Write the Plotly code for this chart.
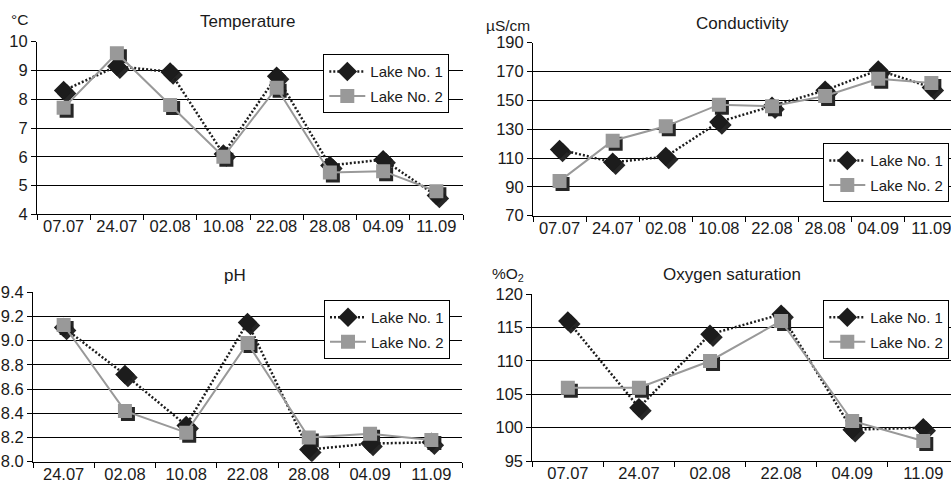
import plotly.graph_objects as go

# ---------------- data ----------------
dates_temp = ["07.07", "24.07", "02.08", "10.08", "22.08", "28.08", "04.09", "11.09"]
temp_lake1 = [8.3, 9.15, 8.95, 6.1, 8.8, 5.7, 5.9, 4.65]
temp_lake2 = [7.7, 9.6, 7.8, 6.0, 8.4, 5.45, 5.5, 4.8]

dates_cond = ["07.07", "24.07", "02.08", "10.08", "22.08", "28.08", "04.09", "11.09"]
cond_lake1 = [116, 107, 111, 135, 146, 157, 171, 159]
cond_lake2 = [94, 122, 132, 147, 146, 153, 165, 162]

dates_ph = ["24.07", "02.08", "10.08", "22.08", "28.08", "04.09", "11.09"]
ph_lake1 = [9.11, 8.72, 8.30, 9.15, 8.10, 8.15, 8.16]
ph_lake2 = [9.13, 8.42, 8.24, 8.98, 8.20, 8.23, 8.18]

dates_oxy = ["07.07", "24.07", "02.08", "22.08", "04.09", "11.09"]
oxy_lake1 = [116, 103, 114, 117, 99.7, 100]
oxy_lake2 = [106, 106, 110, 116, 101, 98]

series_names = ["Lake No. 1", "Lake No. 2"]
panel_titles = ["Temperature", "Conductivity", "pH", "Oxygen saturation"]
unit_labels = ["\u00b0C", "\u00b5S/cm", "", "%O<sub>2</sub>"]

# ---------------- layout geometry (pixels) ----------------
W, H = 951, 482
FONT = "Liberation Sans, Arial, sans-serif"
TXT = "#1a1a1a"
C1, C2 = "#1c1c1c", "#999999"
SHADOW = "#262626"
SH = 3  # shadow offset in px


def fx(px):
    return px / W


def fy(py):
    return 1 - py / H


panels = [
    dict(cats=dates_temp, l1=temp_lake1, l2=temp_lake2, x0=37, x1=463, y0=41.7, y1=214.3,
         xr=[-0.5, 7.5], yr=[4, 10], dt=1, fmt="", leg=(323.3, 54.3),
         title_xy=(247, 22), unit_xy=(19, 20)),
    dict(cats=dates_cond, l1=cond_lake1, l2=cond_lake2, x0=533, x1=951, y0=42.7, y1=215.7,
         xr=[-0.5, 7.37], yr=[70, 190], dt=20, fmt="", leg=(823.3, 143.3),
         title_xy=(742, 23), unit_xy=(508, 25)),
    dict(cats=dates_ph, l1=ph_lake1, l2=ph_lake2, x0=33, x1=462, y0=292.3, y1=461.7,
         xr=[-0.5, 6.5], yr=[8.0, 9.4], dt=0.2, fmt=".1f", leg=(324, 300),
         title_xy=(235, 275), unit_xy=(0, 0)),
    dict(cats=dates_oxy, l1=oxy_lake1, l2=oxy_lake2, x0=532.3, x1=951, y0=294.3, y1=461,
         xr=[-0.5, 5.39], yr=[95, 120], dt=5, fmt="", leg=(823.3, 300),
         title_xy=(732, 274), unit_xy=(508, 274)),
]

fig = go.Figure()
layout = dict(
    width=W, height=H,
    margin=dict(l=0, r=0, t=0, b=0, autoexpand=False),
    paper_bgcolor="white", plot_bgcolor="white",
    font=dict(family=FONT, size=16, color=TXT),
    annotations=[],
)

for i, p in enumerate(panels):
    sa = 2 * i + 1  # shadow axes (base, hidden)
    va = 2 * i + 2  # visible axes (overlay)
    sx = "x" if sa == 1 else f"x{sa}"
    sy = "y" if sa == 1 else f"y{sa}"
    vx, vy = f"x{va}", f"y{va}"
    pw = p["x1"] - p["x0"]
    ph = p["y1"] - p["y0"]
    dxr = SH * (p["xr"][1] - p["xr"][0]) / pw
    dyr = SH * (p["yr"][1] - p["yr"][0]) / ph
    dom_x = [fx(p["x0"]), fx(p["x1"])]
    dom_y = [fy(p["y1"]), fy(p["y0"])]

    # hidden shifted axes for marker shadows
    layout["xaxis" if sa == 1 else f"xaxis{sa}"] = dict(
        type="category", domain=dom_x, anchor=sy,
        range=[p["xr"][0] - dxr, p["xr"][1] - dxr],
        categoryorder="array", categoryarray=p["cats"],
        showgrid=False, showline=False, showticklabels=False, ticks="", zeroline=False)
    layout["yaxis" if sa == 1 else f"yaxis{sa}"] = dict(
        domain=dom_y, anchor=sx,
        range=[p["yr"][0] + dyr, p["yr"][1] + dyr],
        showgrid=False, showline=False, showticklabels=False, ticks="", zeroline=False)
    # visible axes
    layout[f"xaxis{va}"] = dict(
        type="category", overlaying=sx, anchor=vy, range=p["xr"],
        categoryorder="array", categoryarray=p["cats"],
        showgrid=False, showline=True, linecolor="black", linewidth=1,
        ticks="outside", tickson="boundaries", ticklen=5, tickcolor="black", tickwidth=1,
        ticklabelstandoff=-3,
        tickfont=dict(size=16.5, color=TXT), zeroline=False)
    layout[f"yaxis{va}"] = dict(
        overlaying=sy, anchor=vx, range=p["yr"], tick0=p["yr"][0], dtick=p["dt"],
        tickformat=p["fmt"],
        showgrid=True, gridcolor="black", gridwidth=1,
        showline=True, linecolor="black", linewidth=1,
        ticks="outside", ticklen=5, tickcolor="black", tickwidth=1,
        tickfont=dict(size=16.5, color=TXT), zeroline=False)

    legname = "legend" if i == 0 else f"legend{i + 1}"
    layout[legname] = dict(
        x=fx(p["leg"][0]), y=fy(p["leg"][1]), xanchor="left", yanchor="top",
        xref="paper", yref="paper", itemwidth=36,
        bgcolor="white", bordercolor="black", borderwidth=1,
        font=dict(size=15, color=TXT, family=FONT), tracegroupgap=2)

    # shadows
    fig.add_trace(go.Scatter(x=p["cats"], y=p["l1"], xaxis=sx, yaxis=sy, mode="markers",
                             marker=dict(symbol="diamond", size=15, color=SHADOW),
                             showlegend=False, hoverinfo="skip"))
    fig.add_trace(go.Scatter(x=p["cats"], y=p["l2"], xaxis=sx, yaxis=sy, mode="markers",
                             marker=dict(symbol="square", size=14, color=SHADOW),
                             showlegend=False, hoverinfo="skip"))
    # real series
    fig.add_trace(go.Scatter(x=p["cats"], y=p["l1"], xaxis=vx, yaxis=vy, mode="lines+markers",
                             name=series_names[0], legend=legname, legendgroup=f"a{i}",
                             line=dict(color=C1, width=2.5, dash="2px,2px"),
                             marker=dict(symbol="diamond", size=15, color=C1)))
    fig.add_trace(go.Scatter(x=p["cats"], y=p["l2"], xaxis=vx, yaxis=vy, mode="lines+markers",
                             name=series_names[1], legend=legname, legendgroup=f"b{i}",
                             line=dict(color=C2, width=2),
                             marker=dict(symbol="square", size=14, color=C2)))

    layout["annotations"].append(dict(
        text=panel_titles[i], x=fx(p["title_xy"][0]), y=fy(p["title_xy"][1]),
        xref="paper", yref="paper", xanchor="center", yanchor="middle",
        showarrow=False, font=dict(size=17, color=TXT)))
    if unit_labels[i]:
        layout["annotations"].append(dict(
            text=unit_labels[i], x=fx(p["unit_xy"][0]), y=fy(p["unit_xy"][1]),
            xref="paper", yref="paper", xanchor="center", yanchor="middle",
            showarrow=False, font=dict(size=15.5, color=TXT)))

fig.update_layout(**layout)
fig.write_html("out.html", config={"displayModeBar": False},
               post_script="document.body.style.margin='0';")
